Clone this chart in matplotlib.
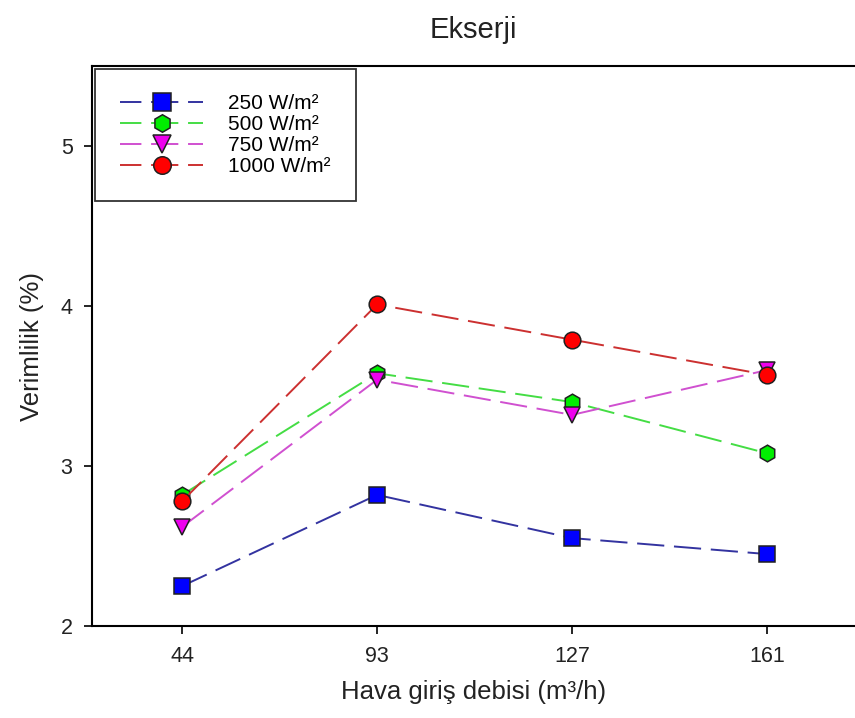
import matplotlib.pyplot as plt

plt.rcParams['font.family'] = ['Liberation Sans', 'DejaVu Sans']

debi = ['44', '93', '127', '161']
w250 = [2.25, 2.82, 2.55, 2.45]
w500 = [2.82, 3.58, 3.40, 3.08]
w750 = [2.62, 3.54, 3.32, 3.60]
w1000 = [2.78, 4.01, 3.79, 3.57]

labels = ['250 W/m²', '500 W/m²', '750 W/m²', '1000 W/m²']
line_colors = ['#3333a0', '#44dd44', '#d050d0', '#cc3030']
face_colors = ['#0000ff', '#00ee00', '#ee00ee', '#ff0000']
markers = ['s', 'h', 'v', 'o']

fig = plt.figure(figsize=(8.55, 7.18), dpi=100)
ax = fig.add_axes([0.1076, 0.128, 0.8924, 0.780])

x = list(range(1, len(debi) + 1))
for i, y in enumerate([w250, w500, w750, w1000]):
    ax.plot(x, y, color=line_colors[i], linestyle=(0, (14, 5)), linewidth=1.4,
            marker=markers[i], markersize=12, markerfacecolor=face_colors[i],
            markeredgecolor='#202020', markeredgewidth=1.1, label=labels[i],
            zorder=2 + i)

ax.set_xlim(0.538, 4.451)
ax.set_ylim(2, 5.5)
ax.set_xticks(x)
ax.set_xticklabels(debi)
ax.set_yticks([2, 3, 4, 5])
ax.tick_params(direction='out', length=6, width=1.2, labelsize=15.5, pad=8,
               labelcolor='#222222')
ax.spines['right'].set_visible(False)
for s in ['left', 'bottom', 'top']:
    ax.spines[s].set_linewidth(1.5)

ax.set_xlabel('Hava giriş debisi (m³/h)', fontsize=18.5, labelpad=10, color='#222222')
ax.set_ylabel('Verimlilik (%)', fontsize=18.5, labelpad=12, color='#222222')
ax.set_title('Ekserji', fontsize=21, pad=20, color='#222222')

leg = ax.legend(loc='upper left', fontsize=15, frameon=True, fancybox=False,
                edgecolor='black', handlelength=4.0, borderpad=1.2,
                handletextpad=1.2, labelspacing=0.1, borderaxespad=0.15,
                markerscale=1.05)
leg.get_frame().set_linewidth(1.3)
for h in leg.get_lines():
    h.set_linestyle((3, (14, 5)))

fig.savefig('out.png', dpi=100)
